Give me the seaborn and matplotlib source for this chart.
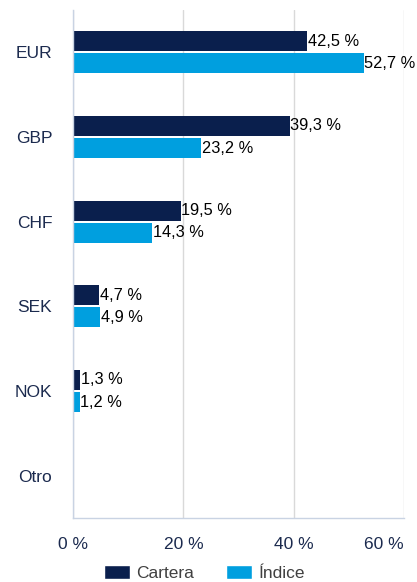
import matplotlib
matplotlib.use("Agg")
import matplotlib.pyplot as plt
import seaborn as sns
import pandas as pd
import numpy as np
from matplotlib.patches import Patch

categories = ["EUR", "GBP", "CHF", "SEK", "NOK", "Otro"]
cartera = [42.5, 39.3, 19.5, 4.7, 1.3, 0.0]
indice = [52.7, 23.2, 14.3, 4.9, 1.2, 0.0]
series_names = ["Cartera", "Índice"]
xticks = [0, 20, 40, 60]
xtick_labels = ["0 %", "20 %", "40 %", "60 %"]

navy = "#0a1f4d"
light = "#009fdf"
tick_col = "#1b2a4e"
axis_col = "#c9d3e3"
grid_col = "#d9d9d9"
fs = 12.5

sns.set_style("white")
plt.rcParams["font.family"] = ["Liberation Sans", "DejaVu Sans"]

df = pd.DataFrame({
    "cat": categories * 2,
    "val": cartera + indice,
    "serie": [series_names[0]] * len(categories) + [series_names[1]] * len(categories),
})

fig = plt.figure(figsize=(4.17, 5.82), dpi=100)
ax = fig.add_axes([73 / 417, 1 - 518 / 582, (404 - 73) / 417, (518 - 10) / 582])

sns.barplot(data=df, y="cat", x="val", hue="serie", order=categories,
            hue_order=series_names, palette=[navy, light], orient="h",
            width=0.52, gap=0.09, ax=ax, legend=False, saturation=1,
            edgecolor="none")

ax.set_xlim(0, 60)
ax.set_ylim(len(categories) - 0.5, -0.5)
ax.set_xticks(xticks)
ax.set_xticklabels(xtick_labels, fontsize=fs, color=tick_col)
ax.get_xticklabels()[-1].set_ha("right")
ax.get_xticklabels()[-1].set_x(60)
ax.set_yticks(range(len(categories)))
ax.set_yticklabels(categories, fontsize=fs, color=tick_col)
ax.set_yticks(np.arange(-0.5, len(categories), 1.0), minor=True)
ax.tick_params(axis="y", which="major", length=0, pad=15)
ax.tick_params(axis="y", which="minor", length=12, color=axis_col, width=1)
ax.tick_params(axis="x", which="major", length=0, pad=14)
ax.set_xlabel("")
ax.set_ylabel("")

ax.grid(axis="x", color=grid_col, linewidth=1)
ax.set_axisbelow(True)
for s in ["top", "right"]:
    ax.spines[s].set_visible(False)
ax.spines["left"].set_color(axis_col)
ax.spines["bottom"].set_color(axis_col)
ax.spines["left"].set_linewidth(1)
ax.spines["bottom"].set_linewidth(1)

for cont in ax.containers:
    labels = [("%.1f %%" % v).replace(".", ",") if v > 0 else "" for v in cont.datavalues]
    ax.bar_label(cont, labels=labels, padding=0.5, fontsize=11.8, color="black")

handles = [Patch(facecolor=navy, label=series_names[0]),
           Patch(facecolor=light, label=series_names[1])]
fig.legend(handles=handles, loc="center", bbox_to_anchor=(0.49, 0.016), ncol=2,
           frameon=False, fontsize=fs, labelcolor="#404040",
           handlelength=1.5, handleheight=0.9, columnspacing=1.8, handletextpad=0.4)

fig.savefig("out.png", dpi=100)
